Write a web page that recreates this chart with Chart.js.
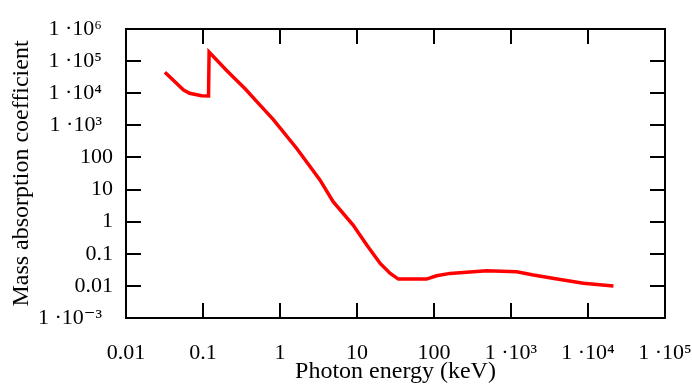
<html>
<head>
    <meta charset="UTF-8">
    <title>Mass absorption coefficient</title>
    <script src="https://cdn.jsdelivr.net/npm/chart.js@4"></script>
    <style>
        body { margin: 0; background: #fff; }
    </style>
</head>
<body>
<canvas id="chartCanvas" width="692" height="386"></canvas>

<script>
    // photon energy in keV
    const energy = [0.032, 0.056, 0.067, 0.096, 0.118, 0.12, 0.2, 0.27, 0.35, 0.5, 0.82, 1.65, 3.3, 4.9, 8.9, 13.4, 20, 27, 34.5,
        80, 108, 162, 325, 484, 1190, 1950, 4350, 8700, 21400];
    // mass absorption coefficient
    const coefficient = [4.5e4, 1.26e4, 1.0e4, 8.3e3, 8.2e3, 1.9e5, 5.3e4, 2.6e4, 1.4e4, 5.5e3, 1.5e3, 190, 20, 4.2, 0.78, 0.187, 0.05, 0.0245, 0.0163,
        0.0163, 0.0206, 0.0245, 0.0276, 0.0295, 0.0276, 0.0219, 0.0159, 0.012, 0.0100];

    const xTicks = [0.01, 0.1, 1, 10, 100, 1e3, 1e4, 1e5];
    const xTickLabels = ['0.01', '0.1', '1', '10', '100', '1 ·10³', '1 ·10⁴', '1 ·10⁵'];
    const yTicks = [1e-3, 0.01, 0.1, 1, 10, 100, 1e3, 1e4, 1e5, 1e6];
    // the power-of-ten labels sit a little further from the axis in the original (en space at the end)
    const yTickLabels = ['1 ·10⁻³\u2002', '0.01', '0.1', '1', '10', '100', '1 ·10³\u2002', '1 ·10⁴\u2002', '1 ·10⁵\u2002', '1 ·10⁶\u2002'];

    const serif = '"Liberation Serif", "DejaVu Serif", serif';
    const tickLen = 15;

    // box round the plot with ticks pointing inwards on all four sides
    const frame = {
        id: 'frame',
        beforeDatasetsDraw(chart) {
            const ctx = chart.ctx;
            const a = chart.chartArea;
            const xs = chart.scales.x;
            const ys = chart.scales.y;
            ctx.save();
            ctx.strokeStyle = '#000';
            ctx.lineWidth = 2;
            ctx.strokeRect(a.left, a.top, a.right - a.left, a.bottom - a.top);
            ctx.beginPath();
            for (const v of xTicks) {
                const px = Math.round(xs.getPixelForValue(v));
                ctx.moveTo(px, a.bottom);
                ctx.lineTo(px, a.bottom - tickLen);
                ctx.moveTo(px, a.top);
                ctx.lineTo(px, a.top + tickLen);
            }
            for (const v of yTicks) {
                const py = Math.round(ys.getPixelForValue(v));
                ctx.moveTo(a.left, py);
                ctx.lineTo(a.left + tickLen, py);
                ctx.moveTo(a.right, py);
                ctx.lineTo(a.right - tickLen, py);
            }
            ctx.stroke();
            ctx.restore();
        }
    };

    window.chart = new Chart(document.getElementById('chartCanvas'), {
        type: 'line',
        data: {
            datasets: [{
                data: energy.map((e, i) => ({x: e, y: coefficient[i]})),
                borderColor: '#ff0000',
                borderWidth: 3.5,
                pointRadius: 0,
                tension: 0,
                fill: false
            }]
        },
        options: {
            responsive: false,
            animation: false,
            layout: {
                autoPadding: false,
                padding: {top: 29, right: 27, left: 0, bottom: 0}
            },
            plugins: {
                legend: {display: false},
                tooltip: {enabled: false}
            },
            scales: {
                x: {
                    type: 'logarithmic',
                    min: 0.01,
                    max: 1e5,
                    grid: {display: false, drawTicks: false},
                    border: {display: false},
                    afterBuildTicks: s => { s.ticks = xTicks.map(v => ({value: v})); },
                    afterFit: s => {
                        s.height = 68;
                        s.paddingLeft = 0;
                        s.paddingRight = 0;
                    },
                    ticks: {
                        color: '#000',
                        font: {family: serif, size: 22},
                        padding: 22,
                        maxRotation: 0,
                        autoSkip: false,
                        callback: (v, i) => xTickLabels[i]
                    },
                    title: {
                        display: true,
                        text: 'Photon energy (keV)',
                        color: '#000',
                        font: {family: serif, size: 24},
                        padding: {top: 0, bottom: 0}
                    }
                },
                y: {
                    type: 'logarithmic',
                    min: 1e-3,
                    max: 1e6,
                    grid: {display: false, drawTicks: false},
                    border: {display: false},
                    afterBuildTicks: s => { s.ticks = yTicks.map(v => ({value: v})); },
                    afterFit: s => {
                        s.width = 126;
                        s.paddingTop = 0;
                        s.paddingBottom = 0;
                    },
                    ticks: {
                        color: '#000',
                        font: {family: serif, size: 22},
                        padding: 13,
                        autoSkip: false,
                        callback: (v, i) => yTickLabels[i]
                    },
                    title: {
                        display: true,
                        text: 'Mass absorption coefficient',
                        color: '#000',
                        font: {family: serif, size: 24},
                        padding: {top: 7, bottom: 0}
                    }
                }
            }
        },
        plugins: [frame]
    });
</script>
</body>
</html>
